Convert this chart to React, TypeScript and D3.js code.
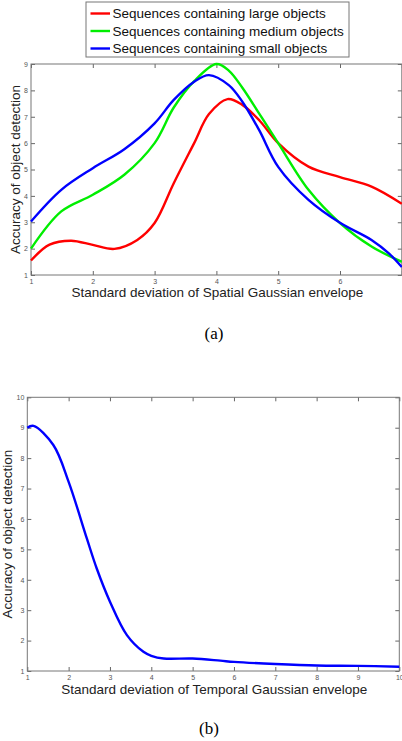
import React, { useEffect, useRef } from 'react'
import * as d3 from 'd3'

// values: [sigma, accuracy]
const spatialLarge: [number, number][] = [
  [1, 1.55], [1.3, 2.15], [1.65, 2.3], [2, 2.14], [2.35, 1.99], [2.72, 2.33], [3, 2.97],
  [3.31, 4.48], [3.64, 6.0], [3.88, 7.1], [4.18, 7.67], [4.42, 7.45], [4.7, 6.85],
  [5, 6.0], [5.49, 5.11], [6, 4.71], [6.51, 4.35], [7, 3.7]
]
const spatialMedium: [number, number][] = [
  [1, 2.0], [1.49, 3.41], [2, 4.04], [2.51, 4.8], [3, 6.0], [3.31, 7.35], [3.64, 8.35],
  [4, 9.0], [4.2, 8.75], [4.42, 8.1], [4.69, 7.13], [5, 6.0], [5.49, 4.23], [6, 2.97],
  [6.51, 2.08], [7, 1.5]
]
const spatialSmall: [number, number][] = [
  [1, 3.03], [1.49, 4.23], [2, 5.05], [2.51, 5.77], [3, 6.75], [3.31, 7.64], [3.64, 8.33],
  [3.88, 8.58], [4.2, 8.2], [4.42, 7.57], [4.69, 6.5], [5, 5.1], [5.49, 3.85], [6, 2.98],
  [6.51, 2.33], [6.8, 1.8], [7, 1.3]
]
const temporal: [number, number][] = [
  [1, 9.0], [1.15, 9.06], [1.63, 8.43], [2, 7.22], [2.44, 5.36], [2.68, 4.37], [3, 3.28],
  [3.41, 2.18], [3.81, 1.63], [4, 1.5], [4.3, 1.41], [5, 1.41], [5.67, 1.34], [6, 1.3],
  [7, 1.23], [8, 1.18], [9, 1.17], [10, 1.14]
]

const legendLabels = [
  'Sequences containing large objects',
  'Sequences containing medium objects',
  'Sequences containing small objects'
]
const seriesColors = ['#ff0000', '#00ee00', '#0000ff']

const spatialXTicks = [1, 2, 3, 4, 5, 6, 7]
const spatialXLabelled = [1, 2, 3, 4, 5, 6] // the 7 falls outside the cropped figure
const spatialYTicks = [1, 2, 3, 4, 5, 6, 7, 8, 9]
const temporalXTicks = [1, 2, 3, 4, 5, 6, 7, 8, 9, 10]
const temporalYTicks = [1, 2, 3, 4, 5, 6, 7, 8, 9, 10]

const FONT = 'Liberation Sans, Arial, sans-serif'

function drawPanel(svg: any, opts: any) {
  const { left, right, top, bottom, xDomain, yDomain, xTicks, xLabelled, yTicks, series, xLabel, yLabelX, xLabelY } = opts
  const x = d3.scaleLinear().domain(xDomain).range([left, right])
  const y = d3.scaleLinear().domain(yDomain).range([bottom, top])
  const g = svg.append('g')

  const styleAxis = (a: any) => {
    a.select('.domain').remove()
    a.selectAll('.tick line').attr('stroke', '#666')
    a.selectAll('.tick text').attr('fill', '#555').attr('font-size', 7).attr('font-family', FONT)
  }

  // ticks point inwards, matlab style box
  g.append('g').attr('transform', `translate(0,${bottom})`)
    .call(d3.axisBottom(x).tickValues(xTicks).tickSizeInner(-4).tickPadding(4)
      .tickFormat((d: any) => (xLabelled.includes(d) ? d3.format('d')(d) : '')))
    .call(styleAxis)
  g.append('g').attr('transform', `translate(0,${top})`)
    .call(d3.axisTop(x).tickValues(xTicks).tickSizeInner(-4).tickFormat(() => ''))
    .call(styleAxis)
  g.append('g').attr('transform', `translate(${left},0)`)
    .call(d3.axisLeft(y).tickValues(yTicks).tickSizeInner(-4).tickPadding(3).tickFormat(d3.format('d')))
    .call(styleAxis)
  g.append('g').attr('transform', `translate(${right},0)`)
    .call(d3.axisRight(y).tickValues(yTicks).tickSizeInner(-4).tickFormat(() => ''))
    .call(styleAxis)

  g.append('rect')
    .attr('x', left).attr('y', top)
    .attr('width', right - left).attr('height', bottom - top)
    .attr('fill', 'none').attr('stroke', '#777').attr('stroke-width', 1)

  const line = d3.line<[number, number]>()
    .x(d => x(d[0]))
    .y(d => y(d[1]))
    .curve(d3.curveCatmullRom.alpha(0.5))

  series.forEach((s: any) => {
    g.append('path')
      .datum(s.data)
      .attr('d', line)
      .attr('fill', 'none')
      .attr('stroke', s.color)
      .attr('stroke-width', 2.4)
  })

  g.append('text')
    .attr('x', (left + right) / 2 + 1).attr('y', xLabelY)
    .attr('text-anchor', 'middle')
    .attr('font-family', FONT).attr('font-size', 13.5).attr('fill', '#222')
    .text(xLabel)

  g.append('text')
    .attr('transform', `translate(${yLabelX},${(top + bottom) / 2}) rotate(-90)`)
    .attr('text-anchor', 'middle')
    .attr('dominant-baseline', 'middle')
    .attr('font-family', FONT).attr('font-size', 13.5).attr('fill', '#222')
    .text('Accuracy of object detection')
}

export default function App() {
  const ref = useRef<SVGSVGElement>(null)

  useEffect(() => {
    if (!ref.current) return
    const svg = d3.select(ref.current)
    svg.selectAll('*').remove()

    // (a) spatial
    drawPanel(svg, {
      left: 31, right: 401.8, top: 64, bottom: 275,
      xDomain: [1, 7], yDomain: [1, 9],
      xTicks: spatialXTicks, xLabelled: spatialXLabelled, yTicks: spatialYTicks,
      series: [
        { data: spatialLarge, color: seriesColors[0] },
        { data: spatialMedium, color: seriesColors[1] },
        { data: spatialSmall, color: seriesColors[2] }
      ],
      xLabel: 'Standard deviation of Spatial Gaussian envelope',
      yLabelX: 16, xLabelY: 297
    })

    // legend
    const lg = svg.append('g')
    lg.append('rect').attr('x', 86).attr('y', 2).attr('width', 263).attr('height', 55)
      .attr('fill', '#fff').attr('stroke', '#777')
    legendLabels.forEach((lab, i) => {
      const cy = 13.5 + i * 17.5
      lg.append('line').attr('x1', 90.5).attr('x2', 110).attr('y1', cy).attr('y2', cy)
        .attr('stroke', seriesColors[i]).attr('stroke-width', 2.4)
      lg.append('text').attr('x', 112.5).attr('y', cy)
        .attr('dominant-baseline', 'central')
        .attr('font-family', FONT).attr('font-size', 13.5).attr('fill', '#111')
        .text(lab)
    })

    svg.append('text').attr('x', 214).attr('y', 339).attr('text-anchor', 'middle')
      .attr('font-family', 'Liberation Serif, Times New Roman, serif').attr('font-size', 17)
      .text('(a)')

    // (b) temporal
    drawPanel(svg, {
      left: 27.3, right: 399.3, top: 397.3, bottom: 671,
      xDomain: [1, 10], yDomain: [1, 10],
      xTicks: temporalXTicks, xLabelled: temporalXTicks, yTicks: temporalYTicks,
      series: [{ data: temporal, color: seriesColors[2] }],
      xLabel: 'Standard deviation of Temporal Gaussian envelope',
      yLabelX: 8, xLabelY: 694
    })

    svg.append('text').attr('x', 209).attr('y', 734).attr('text-anchor', 'middle')
      .attr('font-family', 'Liberation Serif, Times New Roman, serif').attr('font-size', 17)
      .text('(b)')
  }, [])

  return (
    <svg ref={ref} width={402} height={741}
      style={{ position: 'absolute', left: 0, top: 0, background: '#fff' }} />
  )
}
